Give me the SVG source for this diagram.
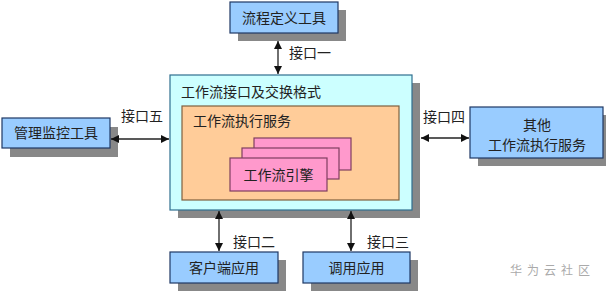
<svg xmlns="http://www.w3.org/2000/svg" width="606" height="292" viewBox="0 0 606 292">
<style>
text{font-family:"Noto Sans CJK SC","Noto Sans CJK JP",sans-serif;font-size:14px;fill:#222}
.sh{fill:#888}
.blue{fill:#99CCFF;stroke:#1F3864;stroke-width:1.2}
.line{stroke:#222;stroke-width:1.3;fill:none}
.wm{fill:#aaa;font-size:12px;letter-spacing:5px}
</style>
<defs>
<marker id="ah" viewBox="0 0 10 10" refX="10" refY="5" markerWidth="8" markerHeight="8" orient="auto-start-reverse" markerUnits="userSpaceOnUse">
<path d="M0,0L10,5L0,10z" fill="#111"/>
</marker>
</defs>
<rect width="606" height="292" fill="#fff"/>
<g id="main">
<rect class="sh" x="178" y="83" width="242" height="135"/>
<rect x="170" y="75" width="242" height="135" fill="#CCFFFF" stroke="#2F6F8F" stroke-width="1.2"/>
<text x="181" y="97">工作流接口及交换格式</text>
</g>
<g id="service">
<rect x="182" y="106" width="217" height="94" fill="#FFCC99" stroke="#7F5F3F" stroke-width="1.2"/>
<text x="193" y="126">工作流执行服务</text>
</g>
<g id="engine">
<rect x="254" y="138" width="97" height="32" fill="#FF99CC" stroke="#7F3F5F" stroke-width="1.2"/>
<rect x="242" y="148" width="97" height="31" fill="#FF99CC" stroke="#7F3F5F" stroke-width="1.2"/>
<rect x="230" y="158" width="97" height="33" fill="#FF99CC" stroke="#7F3F5F" stroke-width="1.2"/>
<text x="278.5" y="180" text-anchor="middle">工作流引擎</text>
</g>
<g id="define">
<rect class="sh" x="238" y="10" width="108" height="31"/>
<rect class="blue" x="230" y="2" width="108" height="31"/>
<text x="284" y="23" text-anchor="middle">流程定义工具</text>
</g>
<g id="monitor">
<rect class="sh" x="10" y="127" width="108" height="30"/>
<rect class="blue" x="2" y="118" width="108" height="30"/>
<text x="56" y="138" text-anchor="middle">管理监控工具</text>
</g>
<g id="other">
<rect class="sh" x="478" y="115" width="133" height="51"/>
<rect class="blue" x="470" y="107" width="133" height="51"/>
<text x="537" y="130" text-anchor="middle">其他</text>
<text x="537" y="150" text-anchor="middle">工作流执行服务</text>
</g>
<g id="client">
<rect class="sh" x="178" y="260" width="108" height="31"/>
<rect class="blue" x="170" y="252" width="108" height="31"/>
<text x="224" y="273" text-anchor="middle">客户端应用</text>
</g>
<g id="invoke">
<rect class="sh" x="311" y="260" width="107" height="31"/>
<rect class="blue" x="303" y="252" width="107" height="31"/>
<text x="356.5" y="273" text-anchor="middle">调用应用</text>
</g>
<g id="connectors">
<line class="line" x1="278" y1="41" x2="278" y2="74" marker-start="url(#ah)" marker-end="url(#ah)"/>
<line class="line" x1="111" y1="139" x2="169" y2="139" marker-start="url(#ah)" marker-end="url(#ah)"/>
<line class="line" x1="421" y1="138" x2="469" y2="138" marker-start="url(#ah)" marker-end="url(#ah)"/>
<line class="line" x1="219" y1="211" x2="219" y2="251" marker-start="url(#ah)" marker-end="url(#ah)"/>
<line class="line" x1="351" y1="211" x2="351" y2="251" marker-start="url(#ah)" marker-end="url(#ah)"/>
<text x="289" y="58">接口一</text>
<text x="121" y="121">接口五</text>
<text x="423" y="122">接口四</text>
<text x="233" y="247">接口二</text>
<text x="367" y="247">接口三</text>
</g>
<text class="wm" x="510" y="275">华为云社区</text>
</svg>
